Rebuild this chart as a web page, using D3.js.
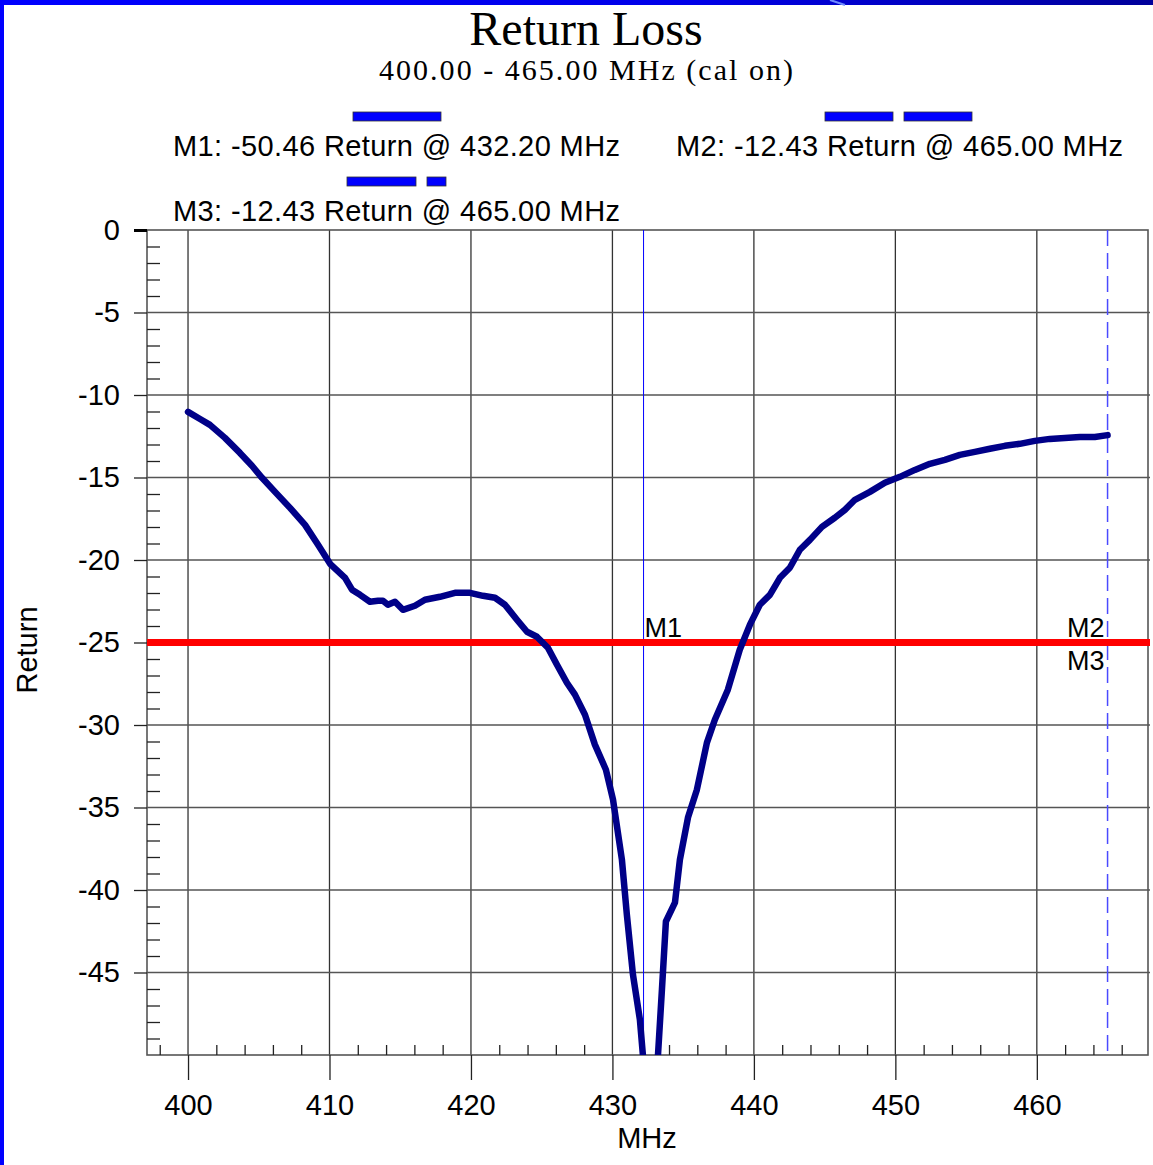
<!DOCTYPE html>
<html>
<head>
<meta charset="utf-8">
<title>Return Loss</title>
<script src="https://cdn.jsdelivr.net/npm/d3@7"></script>
<style>
  body { margin: 0; background: #fff; }
  svg { display: block; }
  .tick text { font-family: "Liberation Sans", Arial, sans-serif; font-size: 29px; fill: #000; }
</style>
</head>
<body>
<svg id="chart" width="1153" height="1165"></svg>
<script>
// sweep data
var freqMHz = [400.0, 400.85, 401.55, 402.61, 403.67, 404.52, 405.23, 406.15, 407.21, 408.27,
  409.19, 410.04, 411.1, 411.59, 412.16, 412.86, 413.43, 413.78, 414.13, 414.63,
  415.19, 416.04, 416.75, 417.81, 418.87, 419.93, 420.85, 421.7, 422.4, 423.25,
  423.96, 424.66, 425.44, 426.08, 426.78, 427.35, 428.06, 428.76, 429.54, 430.04,
  430.67, 431.02, 431.45, 431.94, 432.2, 433.2, 433.5, 433.78, 434.42, 434.77,
  435.34, 435.97, 436.68, 437.24, 438.16, 439.0, 439.72, 440.42, 441.13, 441.84,
  442.54, 443.25, 443.96, 444.81, 445.72, 446.43, 447.14, 448.2, 449.26, 450.32,
  451.38, 452.44, 453.5, 454.56, 455.62, 456.68, 457.74, 458.8, 459.86, 460.92,
  461.98, 463.04, 464.1, 465.0];
var returnDb = [-11.02, -11.45, -11.81, -12.6, -13.51, -14.29, -15.02, -15.87, -16.84, -17.87,
  -19.08, -20.23, -21.08, -21.8, -22.11, -22.53, -22.47, -22.47, -22.71, -22.53,
  -23.02, -22.77, -22.41, -22.23, -21.99, -21.99, -22.17, -22.29, -22.71, -23.62,
  -24.35, -24.65, -25.32, -26.35, -27.44, -28.16, -29.38, -31.19, -32.71, -34.52,
  -38.16, -41.49, -45.12, -47.85, -50.46, -50.3, -46.03, -41.91, -40.76, -38.16,
  -35.61, -33.92, -31.07, -29.68, -27.86, -25.44, -23.92, -22.71, -22.11, -21.08,
  -20.47, -19.38, -18.78, -17.99, -17.44, -16.96, -16.35, -15.87, -15.32, -14.96,
  -14.54, -14.17, -13.93, -13.63, -13.45, -13.26, -13.08, -12.96, -12.78, -12.66,
  -12.6, -12.54, -12.54, -12.43];

var xTicks = [400, 410, 420, 430, 440, 450, 460];
var xMinor = [398, 402, 404, 406, 408, 412, 414, 416, 418, 422, 424, 426, 428, 432, 434, 436, 438,
  442, 444, 446, 448, 452, 454, 456, 458, 462, 464, 466];
var yTicks = [0, -5, -10, -15, -20, -25, -30, -35, -40, -45];
var yMinor = d3.range(-49, 0).filter(function(v) { return v % 5 !== 0; });

var limitDb = -25;
var markerNames = ["M1", "M2", "M3"];
var markerFreq = [432.20, 465.00, 465.00];
var markerVal = [-50.46, -12.43, -12.43];

var titleText = "Return Loss";
var subTitle = "400.00 - 465.00 MHz (cal on)";

var sans = '"Liberation Sans", Arial, sans-serif';
var serif = '"Liberation Serif", "Times New Roman", serif';

var svg = d3.select('#chart');

// blue slide frame
var defs = svg.append('defs');
var grad = defs.append('linearGradient').attr('id', 'topbar');
grad.append('stop').attr('offset', '0').attr('stop-color', '#0000ff');
grad.append('stop').attr('offset', '0.6').attr('stop-color', '#0000e8');
grad.append('stop').attr('offset', '1').attr('stop-color', '#00009a');
svg.append('rect').attr('x', 0).attr('y', 0).attr('width', 1153).attr('height', 5).attr('fill', 'url(#topbar)');
svg.append('rect').attr('x', 0).attr('y', 0).attr('width', 4).attr('height', 1165).attr('fill', '#0000ff');
svg.append('line').attr('x1', 830).attr('y1', 0).attr('x2', 845).attr('y2', 5)
  .attr('stroke', '#6f8cff').attr('stroke-width', 2);

// titles
svg.append('text').attr('x', 586).attr('y', 45).attr('text-anchor', 'middle')
  .attr('font-family', serif).attr('font-size', 48).text(titleText);
svg.append('text').attr('x', 586).attr('y', 80).attr('text-anchor', 'middle')
  .attr('font-family', serif).attr('font-size', 30)
  .attr('textLength', 414).attr('lengthAdjust', 'spacing').text(subTitle);

// plot area
var pLeft = 147, pRight = 1150, pTop = 230, pBottom = 1055;
var x = d3.scaleLinear().domain([397.1, 468.0]).range([pLeft, pRight]);
var y = d3.scaleLinear().domain([-50, 0]).range([pBottom, pTop]);

var clip = defs.append('clipPath').attr('id', 'plotclip');
clip.append('rect').attr('x', pLeft).attr('y', pTop).attr('width', pRight - pLeft).attr('height', pBottom - pTop);

// grid
svg.append('g').selectAll('line').data(xTicks).join('line')
  .attr('x1', function(d) { return x(d); }).attr('x2', function(d) { return x(d); })
  .attr('y1', pTop).attr('y2', pBottom)
  .attr('stroke', '#333').attr('stroke-width', 1.3);
svg.append('g').selectAll('line').data(yTicks.slice(1)).join('line')
  .attr('x1', pLeft).attr('x2', pRight)
  .attr('y1', function(d) { return y(d); }).attr('y2', function(d) { return y(d); })
  .attr('stroke', '#555').attr('stroke-width', 1.6);

// frame
svg.append('rect').attr('x', pLeft).attr('y', pTop).attr('width', pRight - 2 - pLeft).attr('height', pBottom - pTop)
  .attr('fill', 'none').attr('stroke', '#555').attr('stroke-width', 1.6);

// axes (plain hyphen minus signs, like the analyser)
var fmt = function(d) { return String(d); };
var xAxis = svg.append('g').attr('transform', 'translate(0,' + pBottom + ')')
  .call(d3.axisBottom(x).tickValues(xTicks).tickSize(25).tickPadding(14).tickFormat(fmt));
var xAxisMinor = svg.append('g').attr('transform', 'translate(0,' + pBottom + ')')
  .call(d3.axisBottom(x).tickValues(xMinor).tickSize(-10).tickFormat(''));
var yAxis = svg.append('g').attr('transform', 'translate(' + pLeft + ',0)')
  .call(d3.axisLeft(y).tickValues(yTicks).tickSize(13).tickPadding(14).tickFormat(fmt));
var yAxisMinor = svg.append('g').attr('transform', 'translate(' + pLeft + ',0)')
  .call(d3.axisLeft(y).tickValues(yMinor).tickSize(-13).tickFormat(''));
[xAxis, xAxisMinor, yAxis, yAxisMinor].forEach(function(a) {
  a.select('.domain').remove();
  a.selectAll('.tick line').attr('stroke', '#222').attr('stroke-width', 1.3);
});
yAxis.selectAll('.tick').filter(function(d) { return d === 0; }).select('line').attr('stroke-width', 3).attr('stroke', '#000');

svg.append('text').attr('x', 647).attr('y', 1148).attr('text-anchor', 'middle')
  .attr('font-family', sans).attr('font-size', 29).text('MHz');
svg.append('text').attr('transform', 'translate(37,650) rotate(-90)').attr('text-anchor', 'middle')
  .attr('font-family', sans).attr('font-size', 29).text('Return');

// marker lines
svg.append('line').attr('x1', x(markerFreq[0])).attr('x2', x(markerFreq[0]))
  .attr('y1', pTop).attr('y2', pBottom).attr('stroke', '#0000ff').attr('stroke-width', 1);
svg.append('line').attr('x1', x(markerFreq[1])).attr('x2', x(markerFreq[1]))
  .attr('y1', pTop).attr('y2', pBottom).attr('stroke', '#4a4aff').attr('stroke-width', 1.5)
  .attr('stroke-dasharray', '16,7');

// limit line
svg.append('line').attr('x1', pLeft).attr('x2', pRight).attr('y1', y(limitDb)).attr('y2', y(limitDb))
  .attr('stroke', '#ff0000').attr('stroke-width', 7);

// trace
var pts = freqMHz.map(function(f, i) { return [f, returnDb[i]]; });
var line = d3.line().x(function(d) { return x(d[0]); }).y(function(d) { return y(d[1]); });
svg.append('path').datum(pts).attr('clip-path', 'url(#plotclip)')
  .attr('d', line).attr('fill', 'none').attr('stroke', '#000088')
  .attr('stroke-width', 6.5).attr('stroke-linejoin', 'round').attr('stroke-linecap', 'round');

// marker labels on plot
svg.append('text').attr('x', x(markerFreq[0]) + 1).attr('y', 637)
  .attr('font-family', sans).attr('font-size', 27).text(markerNames[0]);
svg.append('text').attr('x', x(markerFreq[1]) - 3).attr('y', 637).attr('text-anchor', 'end')
  .attr('font-family', sans).attr('font-size', 27).text(markerNames[1]);
svg.append('text').attr('x', x(markerFreq[2]) - 3).attr('y', 670).attr('text-anchor', 'end')
  .attr('font-family', sans).attr('font-size', 27).text(markerNames[2]);

// marker legend
function legendLabel(i) {
  return markerNames[i] + ': ' + markerVal[i].toFixed(2) + ' Return @ ' + markerFreq[i].toFixed(2) + ' MHz';
}
var legendPos = [[173, 156], [676, 156], [173, 221]];
var legendBars = [
  [[353, 112, 88]],
  [[825, 112, 68], [904, 112, 68]],
  [[347, 177, 69], [427, 177, 19]]
];
legendPos.forEach(function(p, i) {
  svg.append('text').attr('x', p[0]).attr('y', p[1]).attr('font-family', sans).attr('font-size', 29)
    .attr('textLength', 447).attr('lengthAdjust', 'spacing').text(legendLabel(i));
  legendBars[i].forEach(function(b) {
    svg.append('rect').attr('x', b[0]).attr('y', b[1]).attr('width', b[2]).attr('height', 9)
      .attr('fill', '#0000ff').attr('stroke', '#333').attr('stroke-width', 0.8);
  });
});
</script>
</body>
</html>
